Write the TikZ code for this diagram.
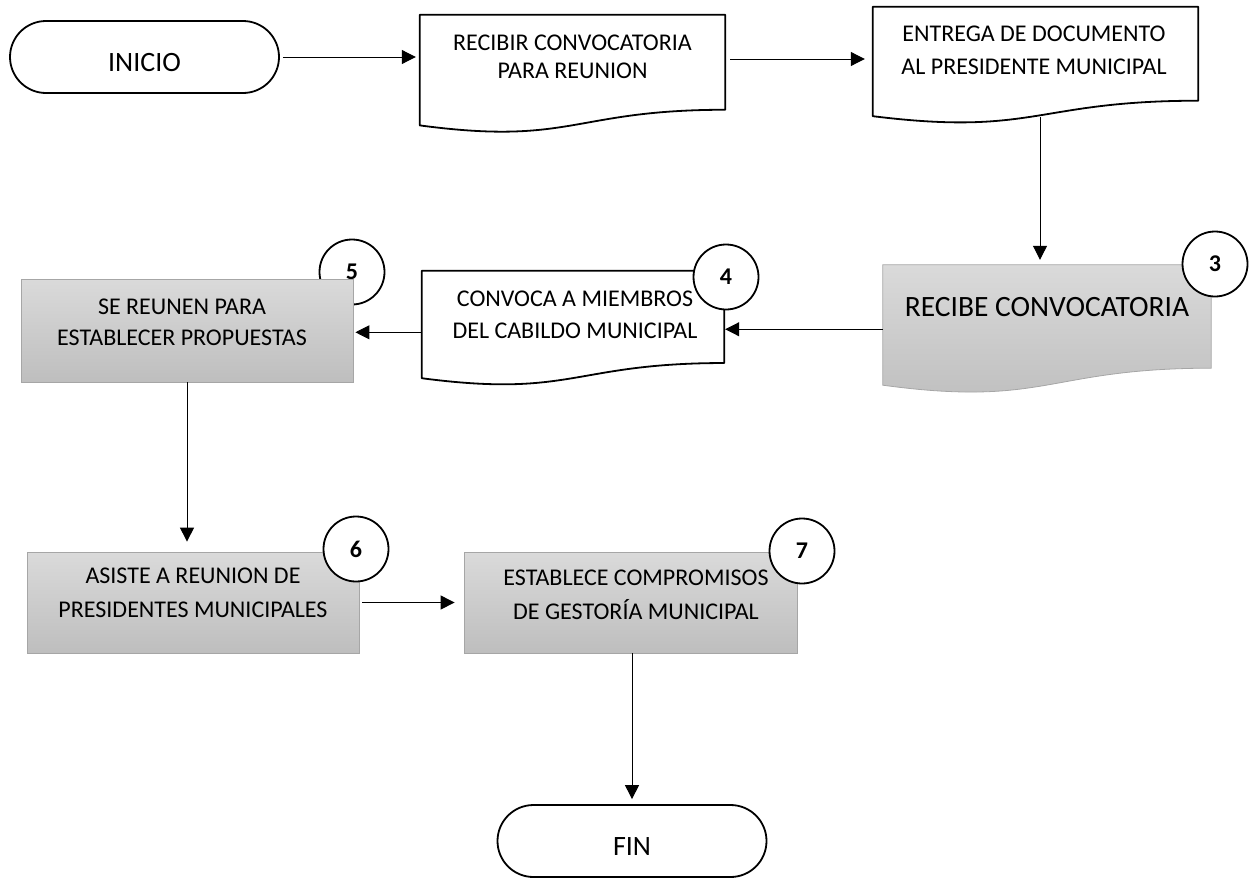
\documentclass[tikz,border=0pt]{standalone}
\usepackage{fontspec}
\setmainfont{Carlito}
\usetikzlibrary{arrows.meta,calc}
\definecolor{gtop}{HTML}{DADADA}
\definecolor{gbot}{HTML}{BEBEBE}
\definecolor{gline}{HTML}{A6A6A6}
\begin{document}
\begin{tikzpicture}[x=1pt,y=-1pt,
  arr/.style={-{Triangle[width=14pt,length=14pt]}, line width=1pt},
  term/.style={draw, line width=1.8pt, rounded corners=36pt, minimum width=269pt, minimum height=72pt, inner sep=0pt, font=\fontsize{28}{30}\selectfont, text height=28pt, text depth=0pt},
  docnode/.style={rectangle, inner sep=0pt},
  docline/.style={draw, line width=1.8pt, line join=round},
  docpath/.style={insert path={(#1.north west) -- (#1.north east) -- ($(#1.north east)!0.802!(#1.south east)$) .. controls ($(#1.north)!0.802!(#1.south)$) and ($(#1.north)!1.107!(#1.south)$) .. ($(#1.north west)!0.934!(#1.south west)$) -- cycle}},
  graybox/.style={rectangle, draw=gline, line width=0.8pt, top color=gtop, bottom color=gbot, inner sep=0pt},
  txt/.style={align=center, inner sep=0pt},
  num/.style={circle, draw, line width=1.8pt, fill=white, minimum size=65pt, inner sep=0pt, font=\fontsize{24}{24}\selectfont\bfseries},
]
\useasboundingbox (0,0) rectangle (1249,878);

% terminals
\node[term] (inicio) at (144.5,57) {INICIO};
\node[term] (fin) at (632,841) {FIN};

% documents
\node[docnode, minimum width=305pt, minimum height=118pt] (recibir) at (572.5,74) {};
\draw[docline, docpath=recibir];
\node[txt, font=\fontsize{24}{28}\selectfont] (recibirt) at (572.5,57) {RECIBIR CONVOCATORIA\\PARA REUNION};

\node[docnode, minimum width=325pt, minimum height=116.7pt] (entrega) at (1035.5,65.35) {};
\draw[docline, docpath=entrega];
\node[txt, font=\fontsize{24}{33}\selectfont] (entregat) at (1034,50.5) {ENTREGA DE DOCUMENTO\\AL PRESIDENTE MUNICIPAL};

\node[docnode, minimum width=328pt, minimum height=128.5pt] (recibe) at (1047,329.25) {};
\path[draw=gline, line width=0.8pt, top color=gtop, bottom color=gbot, docpath=recibe];
\node[txt, font=\fontsize{29.5}{32}\selectfont] (recibet) at (1047,307) {RECIBE CONVOCATORIA};

\node[docnode, minimum width=302pt, minimum height=114.6pt] (convoca) at (573,328.3) {};
\draw[docline, docpath=convoca];
\node[txt, font=\fontsize{24}{32}\selectfont] (convocat) at (575,315) {CONVOCA A MIEMBROS\\DEL CABILDO MUNICIPAL};

% circle 5 lies behind its box
\node[num] (n5) at (352,272) {5};

% gray process boxes
\node[graybox, minimum width=332pt, minimum height=103pt] (sereunen) at (187,330.5) {};
\node[txt, font=\fontsize{24}{31}\selectfont] (sereunent) at (182,322.5) {SE REUNEN PARA\\ESTABLECER PROPUESTAS};

\node[graybox, minimum width=332pt, minimum height=101pt] (asiste) at (193,602.5) {};
\node[txt, font=\fontsize{24}{34}\selectfont] (asistet) at (193,593) {ASISTE A REUNION DE\\PRESIDENTES MUNICIPALES};

\node[graybox, minimum width=333pt, minimum height=101pt] (establece) at (630.5,602.5) {};
\node[txt, font=\fontsize{24}{34}\selectfont] (establecet) at (636,595) {ESTABLECE COMPROMISOS\\DE GESTORÍA MUNICIPAL};

% step numbers
\node[num] (n3) at (1215,264) {3};
\node[num] (n4) at (726,277) {4};
\node[num] (n6) at (356,549) {6};
\node[num] (n7) at (802,551) {7};

% connectors
\draw[arr, shorten <=3pt, shorten >=4pt] (inicio.east) -- (inicio.east -| recibir.west);
\coordinate (c1) at ([shift={(5,-15)}]recibir.east);
\draw[arr, shorten >=8pt] (c1) -- (c1 -| entrega.west);
\draw[arr] ([shift={(4.5,-6.7)}]entrega.south) -- ([shift={(-7,-5)}]recibe.north);
\draw[arr, shorten >=1pt] (recibe.west) -- (recibe.west -| convoca.east);
\coordinate (c2) at ([shift={(0,4)}]convoca.west);
\draw[arr, shorten >=2pt] (c2) -- (c2 -| sereunen.east);
\draw[arr, shorten >=10pt] (sereunen.south) -- (sereunen.south |- asiste.north);
\draw[arr, shorten <=3pt, shorten >=9pt] (asiste.east) -- (asiste.east -| establece.west);
\draw[arr, shorten >=5pt] ([xshift=1.5pt]establece.south) -- (fin.north);
\end{tikzpicture}
\end{document}
